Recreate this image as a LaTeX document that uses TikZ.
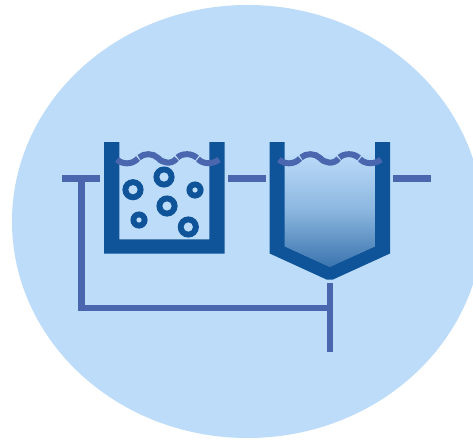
\documentclass[tikz,border=0pt]{standalone}
\definecolor{bgblue}{HTML}{BDDCFA}
\definecolor{tank}{HTML}{0F5499}
\definecolor{pipe}{HTML}{4A66AE}
\definecolor{deep}{HTML}{3A74AE}
\definecolor{midb}{HTML}{8CB7DF}
\tikzset{
  pipeline/.style={draw=pipe,line width=6.4pt},
  wavy/.style={draw=pipe,line width=6pt},
  tankwall/.style={fill=tank},
  bubbleout/.style={fill=tank},
  bubblein/.style={fill=bgblue},
  wave/.pic={
    \draw[wavy] (117,159.5) .. controls (122,164.5) and (132,165) .. (138,158.5);
    \draw[wavy] (139,157.5) .. controls (144,153) and (153,153) .. (158,158) .. controls (162,163) and (172,165) .. (176.5,158.5);
    \draw[wavy] (177.5,157.5) .. controls (182,153) and (192,153) .. (197,158);
    \draw[wavy] (198,159) .. controls (203,164.5) and (213,164.5) .. (219,159.5);
  }
}
\begin{document}
\begin{tikzpicture}[x=1pt,y=-1pt]
\useasboundingbox (0,0) rectangle (473,441);
\clip (0,0) rectangle (473,441);
\fill[white] (0,0) rectangle (473,441);
\fill[bgblue] (247.5,221.5) ellipse [x radius=235.5,y radius=216.5];
% pipes
\coordinate (inA) at (62,178.5); \coordinate (inB) at (100,178.5);
\coordinate (midA) at (228,178.5); \coordinate (midB) at (266,178.5);
\coordinate (outA) at (393,178.5); \coordinate (outB) at (431,178.5);
\coordinate (retTop) at (81.3,178.5); \coordinate (retCorner) at (81.3,308);
\coordinate (retEnd) at (330,308);
\coordinate (sludgeTop) at (330,283); \coordinate (sludgeEnd) at (330,352);
\path[pipeline] (inA) -- (inB);
\path[pipeline] (midA) -- (midB);
\path[pipeline] (outA) -- (outB);
\path[pipeline] (retTop) -- (81.3,311.2);
\path[pipeline] (78.1,308) -- (retEnd);
\path[pipeline] (sludgeTop) -- (sludgeEnd);
% aeration tank
\fill[tankwall] (104,142) -- (119.3,142) -- (119.3,239.4) -- (209.4,239.4) -- (209.4,142) -- (224.6,142) -- (224.6,253.5) -- (104,253.5) -- cycle;
% bubbles
\foreach \x/\y/\ro/\ri in {133/189.7/10.6/4.6, 164/177/10.6/4.6, 167/206/10.6/4.6, 188.3/227/10.6/4.6, 195/190/8.6/2.6, 139/220/8.6/2.6}{
  \fill[bubbleout] (\x,\y) circle [radius=\ro];
  \fill[bubblein] (\x,\y) circle [radius=\ri];
}
% settling tank
\shade[top color=bgblue,bottom color=deep,middle color=midb]
  (284.7,152) -- (375,152) -- (375,246.5) -- (329.7,267) -- (284.7,246.5) -- cycle;
\fill[tankwall] (269.7,142) -- (284.7,142) -- (284.7,246.5) -- (329.7,267) -- (375,246.5) -- (375,142) -- (390,142) -- (390,253.5) -- (333,279.5) -- (326.5,279.5) -- (269.7,253.5) -- cycle;
% water surfaces
\pic at (0,0) {wave};
\pic at (162,0) {wave};
\end{tikzpicture}
\end{document}
